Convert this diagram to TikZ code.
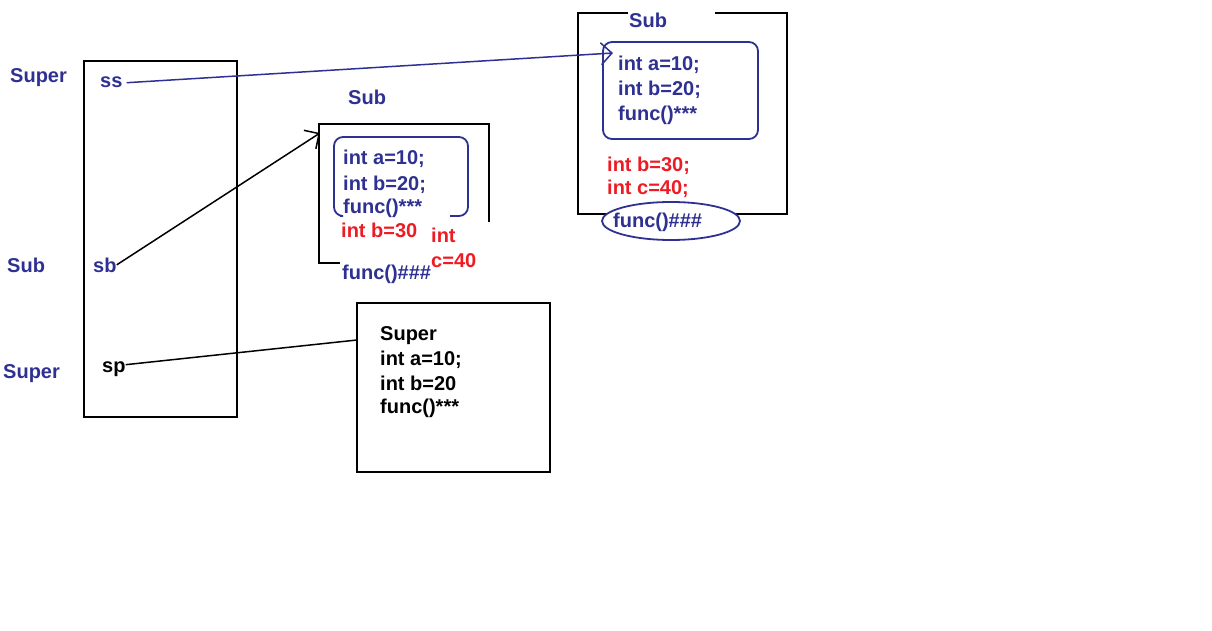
\documentclass[tikz,border=0pt]{standalone}
\usepackage{fontspec}
\setmainfont{Liberation Sans}
\usetikzlibrary{arrows.meta,shapes.geometric}
\definecolor{paintblue}{RGB}{46,49,146}
\definecolor{paintred}{RGB}{237,28,36}
\tikzset{
  lbl/.style={font=\fontsize{20}{24}\selectfont\bfseries, inner sep=0pt, anchor=base west},
  blu/.style={lbl, text=paintblue},
  rd/.style={lbl, text=paintred},
  blk/.style={lbl, text=black},
  frame/.style={draw=black, line width=2.3pt},
  obj/.style={draw=paintblue, line width=1.8pt, rounded corners=9pt},
  ref/.style={line width=1.5pt, -{Straight Barb[length=11pt,width=22pt,line width=1.5pt]}},
}

\begin{document}
\begin{tikzpicture}[x=1pt,y=-1pt]
\useasboundingbox (0,0) rectangle (1212,631);
% stack
\node[frame, anchor=north west, minimum width=153pt, minimum height=356pt] (stack) at (83,60) {};
\node[blu] (tsup) at (10,83) {Super};
\node[blu] (tsub) at (7,272) {Sub};
\node[blu] (tsupb) at (3,378) {Super};
\node[blu] (ss) at (100,88) {ss};
\node[blu] (sb) at (93,272) {sb};
\node[blk] (sp) at (102,372) {sp};
% Sub object pointed to by ss
\draw[frame] (628,13) -| (578,214) -| (787,13) -- (715,13);
\node[blu] (subA) at (629,28) {Sub};
\draw[obj] (603,42) rectangle (758,139);
\node[blu] (aa) at (618,71) {int a=10;};
\node[blu] (ab) at (618,96) {int b=20;};
\node[blu] (af) at (618,121) {func()***};
\node[rd] (ab2) at (607,172) {int b=30;};
\node[rd] (ac) at (607,195) {int c=40;};
\node[draw=paintblue, fill=white, line width=1.8pt, ellipse, minimum width=138pt, minimum height=38pt, inner sep=0pt] (ovl) at (671,221) {};
\node[blu] (af2) at (613,227) {func()\#\#\#};
% Sub object pointed to by sb
\node[blu] (subB) at (348,105) {Sub};
\draw[frame] (340,263) -| (319,124) -| (489,222);
\draw[obj] (450,216) -| (468,137) -| (334,216) -- (340,216);
\node[blu] (ma) at (343,165) {int a=10;};
\node[blu] (mb) at (343,190) {int b=20;};
\node[blu] (mf) at (343,213) {func()***};
\node[rd] (mb2) at (341,237) {int b=30};
\node[rd] (mc1) at (431,242) {int};
\node[rd] (mc2) at (431,267) {c=40};
\node[blu] (mf2) at (342,279) {func()\#\#\#};
% Super object
\node[frame, anchor=north west, minimum width=193pt, minimum height=169pt] (supobj) at (356,302) {};
\node[blk] (sa) at (380,340) {Super};
\node[blk] (sa1) at (380,365) {int a=10;};
\node[blk] (sa2) at (380,390) {int b=20};
\node[blk] (sa3) at (380,413) {func()***};
% references
\coordinate (sstip) at (613,53);
\coordinate (sbtip) at (320,133);
\coordinate (spend) at (357,340);
\draw[ref, paintblue] ([xshift=4pt]ss.east) -- (sstip);
\draw[ref] (sb.east) -- (sbtip);
\draw[line width=1.5pt] ([yshift=4pt]sp.east) -- (spend);
\end{tikzpicture}
\end{document}
